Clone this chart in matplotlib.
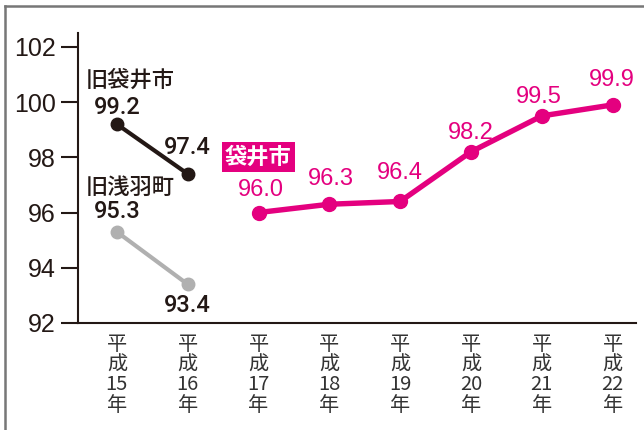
import matplotlib
matplotlib.use("Agg")
import matplotlib.pyplot as plt
from matplotlib.lines import Line2D

plt.rcParams['font.family'] = ['Noto Sans CJK JP', 'DejaVu Sans']

years = ["平\n成\n15\n年", "平\n成\n16\n年", "平\n成\n17\n年", "平\n成\n18\n年",
         "平\n成\n19\n年", "平\n成\n20\n年", "平\n成\n21\n年", "平\n成\n22\n年"]
old_fukuroi_x = [0, 1]
old_fukuroi = [99.2, 97.4]
old_asaba_x = [0, 1]
old_asaba = [95.3, 93.4]
fukuroi_x = [2, 3, 4, 5, 6, 7]
fukuroi = [96.0, 96.3, 96.4, 98.2, 99.5, 99.9]
yticks = [92, 94, 96, 98, 100, 102]

BLACK = "#231815"
GRAY = "#b0b0b0"
MAG = "#e4007f"

fig = plt.figure(figsize=(6.44, 4.30), dpi=100)
ax = fig.add_axes([0.121, 0.249, 0.8666, 0.674])

ax.plot(old_fukuroi_x, old_fukuroi, color=BLACK, lw=3, marker='o', ms=9)
ax.plot(old_asaba_x, old_asaba, color=GRAY, lw=3, marker='o', ms=9)
ax.plot(fukuroi_x, fukuroi, color=MAG, lw=3.9, marker='o', ms=10)

ax.set_xlim(-0.55, 7.33)
ax.set_ylim(92, 102.5)
ax.set_yticks(yticks)
ax.set_yticklabels([str(v) for v in yticks], fontfamily='Liberation Sans', fontsize=18, color=BLACK)
ax.set_xticks(range(len(years)))
ax.set_xticklabels(years, fontsize=14.5, color="#333333", linespacing=0.95)
ax.tick_params(axis='x', length=0, pad=8)
ax.tick_params(axis='y', length=12, width=1.5, color=BLACK, pad=4)
for s in ['top', 'right']:
    ax.spines[s].set_visible(False)
for s in ['left', 'bottom']:
    ax.spines[s].set_linewidth(1.5)
    ax.spines[s].set_color(BLACK)
ax.spines['left'].set_bounds(92, 102.5)

blackfont = dict(fontfamily=['Roboto', 'Liberation Sans'], fontweight='medium', fontsize=17)
magfont = dict(fontfamily='Liberation Sans', fontsize=17)

bl_off = [17, 26]
for x, v, o in zip(old_fukuroi_x, old_fukuroi, bl_off):
    ax.annotate(f"{v:.1f}", (x, v), xytext=(0, o * 0.72), textcoords='offset points',
                ha='center', va='center', color=BLACK, **blackfont)
gr_off = [20, -21]
for x, v, o in zip(old_asaba_x, old_asaba, gr_off):
    ax.annotate(f"{v:.1f}", (x, v), xytext=(0, o * 0.72), textcoords='offset points',
                ha='center', va='center', color=BLACK, **blackfont)
mg_off = [23, 25, 28, 19, 19, 25]
mg_dx = [2, 2, 0, 0, -3, -1]
for x, v, o, d in zip(fukuroi_x, fukuroi, mg_off, mg_dx):
    ax.annotate(f"{v:.1f}", (x, v), xytext=(d * 0.72, o * 0.72), textcoords='offset points',
                ha='center', va='center', color=MAG, **magfont)

ax.text(-0.44, 100.8, "旧袋井市", fontsize=16, fontweight='medium', color=BLACK, ha='left', va='center')
ax.text(-0.44, 96.9, "旧浅羽町", fontsize=16, fontweight='medium', color=BLACK, ha='left', va='center')
ax.text(2.0, 98.0, "袋井市", fontsize=16, fontweight='bold', color='white', ha='center', va='center',
        bbox=dict(boxstyle='square,pad=0.15', fc=MAG, ec='none'))

fig.add_artist(Line2D([5/644, 5/644], [0, 1 - 6/430], transform=fig.transFigure, color="#777777", lw=1.8))
fig.add_artist(Line2D([5/644, 1], [1 - 6/430, 1 - 6/430], transform=fig.transFigure, color="#777777", lw=1.8))

fig.savefig("out.png", dpi=100)
